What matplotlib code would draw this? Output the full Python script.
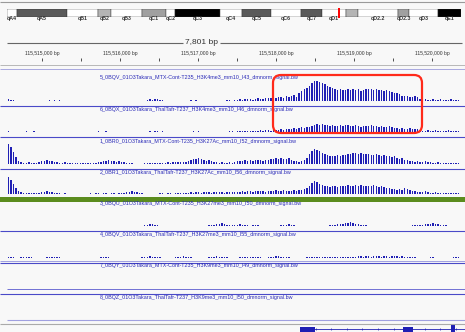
import matplotlib.pyplot as plt
from matplotlib.patches import FancyBboxPatch

plt.rcParams['font.family'] = ['Liberation Sans', 'DejaVu Sans']

W, H = 465, 332
BG = "#f8f8f8"
BAR = "#2020b4"

# locus in view
view_start = 115514551
view_end = 115520423
bin_size = 33

# cytobands of the chromosome (ideogram units)
band_names = ["qA4", "qA5", "qB1", "qB2", "qB3", "qC1", "qC2", "qC3", "qC4",
              "qC5", "qC6", "qC7", "qD1", "", "qD2.2", "qD2.3", "qD3", "qE1"]
band_edges = [0, 10, 60, 91, 104, 135, 159, 168, 213, 235, 264, 294, 315,
              339, 351, 391, 402, 431, 454]
band_colors = ["white", "#5a5a5a", "white", "#b4b4b4", "white", "#a0a0a0",
               "white", "black", "white", "#5a5a5a", "white", "#5a5a5a",
               "white", "#b4b4b4", "white", "#a0a0a0", "white", "black"]
locus_mark = 332

ruler_major = [115515000, 115516000, 115517000, 115518000, 115519000, 115520000]
ruler_minor = [115515000, 115515500, 115516000, 115516500, 115517000, 115517500,
               115518000, 115518500, 115519000, 115519500, 115520000]
span_text = "7,801 bp"

track_names = [
    "5_0BQV_01O3Takara_MTX-Cont-T235_H3K4me3_mm10_I43_dmnorm_signal.bw",
    "6_0BQX_01O3Takara_ThalTafr-T237_H3K4me3_mm10_I46_dmnorm_signal.bw",
    "1_0BR0_01O3Takara_MTX-Cont-T235_H3K27Ac_mm10_I52_dmnorm_signal.bw",
    "2_0BR1_01O3Takara_ThalTafr-T237_H3K27Ac_mm10_I56_dmnorm_signal.bw",
    "3_0BQU_01O3Takara_MTX-Cont-T235_H3K27me3_mm10_I50_dmnorm_signal.bw",
    "4_0BQV_01O3Takara_ThalTafr-T237_H3K27me3_mm10_I55_dmnorm_signal.bw",
    "7_0BQY_01O3Takara_MTX-Cont-T235_H3K9me3_mm10_I49_dmnorm_signal.bw",
    "8_0BQZ_01O3Takara_ThalTafr-T237_H3K9me3_mm10_I50_dmnorm_signal.bw",
]

h3k4me3_mtx = ([2, 1.5, 1, 0] + [0] * 11 + [0.5, 1, 0.5, 1, 0.5, 1, 0.5] + [0] * 32 +
               [1, 2, 1, 2, 2, 1, 1] + [0] * 9 + [0.5, 1, 0.5, 1, 0.5, 0.5] + [0] * 9 +
               [1, 1, 0.5, 1, 1, 2, 1, 2, 2, 2, 1, 2, 3, 2, 2, 3] +
               [3, 3, 4, 3, 4, 4, 3, 5, 4] + [5, 6, 4, 8] + [10, 12, 13, 15] +
               [18, 20, 20, 19] + [18, 17, 15, 14, 13] +
               [12, 11, 12, 11, 11, 12, 11, 12, 11, 12, 10, 11, 12] +
               [12, 12, 11, 12, 11, 11, 10, 11, 10] + [9, 8, 8, 7] +
               [5, 5, 5, 4, 4, 5, 4] +
               [2, 1, 2, 1, 1, 2, 1, 1, 2, 1, 1, 1, 2, 1, 1, 1])

h3k4me3_thal = ([1, 0.5, 0.5, 0, 0, 0] + [0.5, 1, 0.5, 0.5, 1, 0.5, 0.5, 0.5, 0] + [0] * 18 +
                [0.5, 0.5, 1, 0.5, 0.5, 1, 0.5, 0.5] + [0] * 13 +
                [0.5, 1, 0.5, 1, 1, 0.5, 1, 0.5, 0.5] + [0] * 7 +
                [0.5, 0.5, 1, 0.5, 1, 0.5, 0.5] + [0, 0, 0, 0, 0, 0.5, 0, 0.5, 0.5] +
                [1, 1, 0.5, 1, 1, 1, 1.5, 1, 1, 1.5, 1, 1.5, 2, 1.5, 2, 2, 1.5, 2, 2] +
                [2, 3, 2, 3, 3, 3] + [4, 3, 4, 5, 4, 5, 5] + [6, 7, 8, 7, 8] +
                [7, 7, 6, 7, 6, 6, 7, 6, 7, 7, 6, 6, 7, 6, 5, 6, 6] +
                [6, 7, 6, 6, 5, 6, 5, 5, 6, 5] + [4, 4, 3, 4, 3, 3, 4, 3, 3, 3] +
                [2, 1, 1, 2, 1, 1, 2, 1, 1, 1, 1, 2, 1, 1, 1, 1])

h3k27ac_mtx = ([20, 17, 12, 7, 3, 2] + [1, 1, 1.5, 1, 1, 1, 1.5] + [3, 3, 4, 3, 3] +
               [2, 2, 1, 1, 2, 1, 1, 1] + [0.5, 0.5, 1, 0.5, 0.5, 1, 1, 1, 1, 1.5] +
               [2, 3, 3, 4, 3, 3, 2, 3] + [2, 2, 1, 1, 1] + [0, 0, 0, 0, 0.5, 0.5, 0.5] +
               [0.5, 0.5, 1, 1, 1, 1, 1.5, 1, 1.5, 2, 1.5, 2, 2, 2, 3] +
               [4, 5, 5, 6, 5, 4, 3] + [4, 3, 2, 2] + [1, 2, 1, 1, 2, 1] +
               [2, 3, 3, 3, 4, 3, 4, 3, 4, 4, 4, 3, 4, 4] + [5, 5, 6, 5, 6, 5, 5, 6, 4] +
               [3, 3, 2, 3, 4, 6] + [10, 13, 15, 14, 13] + [11, 10, 9, 8, 8] +
               [8, 9, 8, 9, 9, 10] + [10, 11, 11, 10, 11, 10, 10, 10] +
               [9, 9, 10, 9, 8, 9, 8, 8, 7, 8] + [6, 5, 6, 4, 4, 3, 3] +
               [2, 3, 2, 2, 3, 2, 2] + [1, 1, 2, 1, 1, 1, 1, 1, 1, 1, 1])

h3k27ac_thal = ([17, 14, 10, 6, 3, 2] + [1, 1, 1, 1, 1, 1, 1.5] + [2, 2, 3, 2, 2] +
                [1, 1, 1, 0.5, 1, 0.5, 0.5, 0.5] + [0, 0, 0, 0, 0] +
                [0.5, 1, 0.5, 1, 1, 0.5, 1, 1, 0.5, 1, 1, 0.5, 1, 1, 1] +
                [2, 2, 3, 2, 2, 1, 1] + [0.5, 0, 0, 0, 0] +
                [0.5, 1, 1, 0.5, 1, 1, 0.5, 1, 1, 1, 1, 1] +
                [1, 2, 1, 2, 2, 1, 2, 2, 2, 1, 2, 2, 2, 2, 1, 2, 2, 2, 2, 2] +
                [2, 3, 2, 3, 3, 2, 3, 3, 3, 3, 2, 3, 3, 3, 4, 3, 3, 4, 3, 3, 3, 4, 3, 4] +
                [4, 5, 6, 8] + [11, 13, 12, 10] +
                [9, 8, 8, 7, 8, 8, 7, 8, 8, 8, 9, 8, 8, 9, 8, 9, 8, 8] +
                [8, 8, 9, 8, 7, 8, 7, 6, 6, 5] + [5, 4, 5, 4, 6, 5, 4, 3, 3, 2] +
                [2, 2, 3, 2, 1, 1, 2, 1, 1, 1, 1, 1, 1, 1, 1, 1])

h3k27me3_mtx = ([0.5, 0.5, 0.5] + [0] * 7 + [0.5] * 15 + [0] * 27 +
                [0.5, 1, 1, 2, 2, 1, 1, 0.5, 0.5] + [0] * 13 + [0.5, 0.5, 0.5] +
                [0.5, 1, 1, 1, 2, 2, 3, 2, 1, 1, 1, 1, 1, 2, 1, 1, 1, 0.5, 1, 1, 1, 0.5, 0.5, 0.5, 0.5] +
                [0, 0, 0] + [0.5, 1, 1, 1, 2, 1, 1, 0.5, 0.5, 0.5] + [0] * 8 +
                [0.5, 0.5, 1, 1, 1, 2, 2, 2, 3, 3, 4, 3, 2, 2, 1, 1, 1, 0.5] + [0] +
                [0.5] * 12 + [0] +
                [0.5, 0.5, 1, 1, 1, 1, 1, 2, 2, 2, 3, 2, 2, 1, 1, 1, 0.5, 0.5, 0.5] + [0, 0])

h3k27me3_thal = ([0.5, 0.5, 0.5] + [0, 0] + [0.5] * 5 + [0] * 5 + [0.5] * 6 + [0] * 15 +
                 [0.5] * 4 + [0] * 12 + [0.5, 1, 1, 2, 1, 1, 0.5, 0.5] + [0] * 5 +
                 [0.5, 1, 1, 2, 1, 0.5, 0.5] + [0] * 6 + [0.5, 1, 1, 2, 1, 1, 0.5, 0.5] +
                 [0] * 4 + [0.5] * 9 + [0, 0] + [0.5, 1, 1, 2, 2, 1, 1, 0.5, 0.5] +
                 [0] * 6 + [0.5] * 9 + [0.5, 0.5, 1, 1, 0.5, 0.5, 1, 0.5, 0.5, 1] +
                 [1, 2, 2, 1, 2, 2, 1, 2, 2, 2, 1, 2, 2, 1, 2, 2, 2, 1, 2, 1, 1, 1, 0.5, 0.5] +
                 [0] * 5 + [0.5, 0.5] + [0] * 7 + [0.5, 0.5, 0.5])

h3k9me3_mtx = []
h3k9me3_thal = []

tracks = [h3k4me3_mtx, h3k4me3_thal, h3k27ac_mtx, h3k27ac_thal,
          h3k27me3_mtx, h3k27me3_thal, h3k9me3_mtx, h3k9me3_thal]

# RefSeq gene at the bottom
gene_exons = [(115518307, 115518500), (115519628, 115519756), (115520243, 115520295)]
gene_start = 115518307

fig = plt.figure(figsize=(W / 100, H / 100), dpi=100, facecolor=BG)


def px_axes(x0, y0, x1, y1, z=2):
    ax = fig.add_axes([x0 / W, 1 - y1 / H, (x1 - x0) / W, (y1 - y0) / H])
    ax.set_zorder(z)
    ax.patch.set_alpha(0)
    ax.axis("off")
    return ax


base = px_axes(0, 0, W, H, z=1)
base.set_xlim(0, W)
base.set_ylim(H, 0)

# header lines
base.hlines(2, 0, W, color="#9a9a9a", lw=0.8)
base.hlines(65, 0, W, color="#b8b8b8", lw=0.7)
base.hlines(69, 0, W, color="#a8a8e0", lw=0.7)

# ideogram
ideo = px_axes(7, 9.5, 461, 16.5)
ideo.set_xlim(0, 454)
ideo.set_ylim(0, 1)
for i, name in enumerate(band_names):
    left, right = band_edges[i], band_edges[i + 1]
    ideo.bar(left, 1, width=right - left, align="edge", color=band_colors[i],
             edgecolor="#333333", linewidth=0.3)
    if name:
        ideo.text((left + right) / 2, -0.35, name, ha="center", va="center",
                  fontsize=3.8, fontweight="bold", color="#333333", clip_on=False)
ideo.vlines(locus_mark, -0.2, 1.2, color="red", lw=1.4, clip_on=False)

# ruler
base.hlines(42.5, 7, 183, color="#666666", lw=0.8)
base.hlines(42.5, 220, 462, color="#666666", lw=0.8)
base.text(201, 42.5, span_text, ha="center", va="center", fontsize=6, color="#333333")

ruler = px_axes(7, 46, 465, 62)
ruler.set_xlim(view_start, view_end)
ruler.set_ylim(62, 46)
ruler.vlines(ruler_minor, 57.5, 61, color="#333333", lw=0.6)
for pos in ruler_major:
    ruler.text(pos, 53, f"{pos:,} bp", ha="center", va="center", fontsize=3.6,
               color="#333333")

# data tracks
sep_y = [106, 137, 168.5, 199, 231, 262.5, 294, 324]
label_y = [77, 110, 141, 172.5, 203, 234.5, 266, 297]
for k, vals in enumerate(tracks):
    b = sep_y[k] - 5
    ax = px_axes(7, b - 24, 465, b)
    ax.set_xlim(view_start, view_end)
    ax.set_ylim(0, 24)
    if vals:
        xs = [view_start + i * bin_size + bin_size / 2 for i in range(len(vals))]
        ax.bar(xs, vals, width=18, color=BAR, linewidth=0)
    base.text(100, label_y[k], track_names[k], ha="left", va="center",
              fontsize=3.9, color="#2a2ab8")

# separators
for k in [0, 1, 2, 4]:
    base.hlines(sep_y[k], 0, W, color="#4a4ac8", lw=0.8)
base.add_patch(plt.Rectangle((0, 196.5), W, 5, color="#5b8c1e", lw=0))
base.hlines(261, 0, W, color="#a0a0e0", lw=0.7)
base.hlines(262.5, 0, W, color="#4a4ac8", lw=0.8)
base.hlines(289, 7, W, color="#7070d4", lw=0.7)
base.hlines(294, 0, W, color="#4a4ac8", lw=0.8)
base.hlines(320, 7, W, color="#a0a0e0", lw=0.8)
base.hlines(324, 0, W, color="#aaaaaa", lw=0.8)

# gene track
gene = px_axes(7, 324.5, 465, 332)
gene.set_xlim(view_start, view_end)
gene.set_ylim(332, 324.5)
gene.hlines(329, gene_start, view_end, color="#1e1eb4", lw=0.6)
intron_ticks = [p for p in range(gene_start + 200, view_end, 200)
                if not any(s <= p <= e for s, e in gene_exons)]
gene.vlines(intron_ticks, 328, 330, color="#1e1eb4", lw=0.5)
for s, e in gene_exons[:2]:
    gene.barh(329.5, e - s, left=s, height=5, color="#1e1eb4", lw=0)
s, e = gene_exons[2]
gene.barh(328.5, e - s, left=s, height=7, color="#1e1eb4", lw=0)

# highlight box
base.add_patch(FancyBboxPatch((273, 75), 149, 58, boxstyle="round,pad=0,rounding_size=8",
                              fc="none", ec="#ff2a1a", lw=1.6, zorder=5))
base.set_zorder(3)
base.patch.set_alpha(0)
fig.patch.set_facecolor(BG)

fig.savefig("out.png", dpi=100, facecolor=BG)
